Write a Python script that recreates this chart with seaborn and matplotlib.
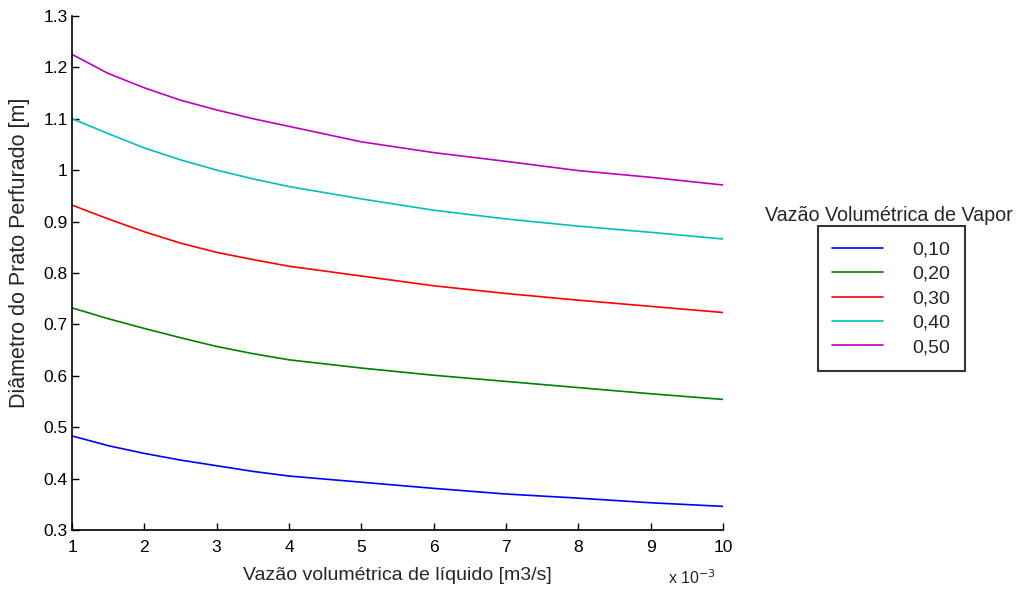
import matplotlib
matplotlib.use("Agg")
import matplotlib.pyplot as plt
import matplotlib.ticker as mticker
import seaborn as sns
import pandas as pd

# liquid flow rate (x 10^-3 m3/s)
vazao_liquido = [1, 1.5, 2, 2.5, 3, 3.5, 4, 5, 6, 7, 8, 9, 10]

# plate diameter [m] for each vapour flow rate
d_010 = [0.483, 0.464, 0.449, 0.436, 0.425, 0.414, 0.405, 0.393, 0.381, 0.370, 0.362, 0.353, 0.346]
d_020 = [0.732, 0.711, 0.692, 0.674, 0.657, 0.643, 0.631, 0.615, 0.601, 0.589, 0.577, 0.565, 0.554]
d_030 = [0.932, 0.905, 0.880, 0.858, 0.840, 0.826, 0.813, 0.794, 0.775, 0.760, 0.747, 0.735, 0.723]
d_040 = [1.100, 1.071, 1.043, 1.020, 1.000, 0.983, 0.968, 0.944, 0.922, 0.905, 0.891, 0.879, 0.866]
d_050 = [1.225, 1.188, 1.160, 1.136, 1.117, 1.100, 1.085, 1.055, 1.034, 1.017, 0.999, 0.986, 0.971]

labels = ["0,10", "0,20", "0,30", "0,40", "0,50"]
series = [d_010, d_020, d_030, d_040, d_050]
cores = [(0, 0, 1), (0, 0.5, 0), (1, 0, 0), (0, 0.75, 0.75), (0.75, 0, 0.75)]

rows = []
for lab, vals in zip(labels, series):
    for x, y in zip(vazao_liquido, vals):
        rows.append({"x": x, "d": y, "vapor": lab})
df = pd.DataFrame(rows)

sns.set_style("white")
plt.rcParams["font.family"] = ["Liberation Sans", "DejaVu Sans"]

fig = plt.figure(figsize=(10.17, 5.91), dpi=100)
ax = fig.add_axes([0.0708, 0.1032, 0.640, 0.870])

sns.lineplot(data=df, x="x", y="d", hue="vapor", palette=dict(zip(labels, cores)),
             linewidth=1.2, ax=ax, legend=False)

ax.set_xlim(1, 10)
ax.set_ylim(0.3, 1.3)
ax.set_xticks(range(1, 11))
ax.set_yticks([0.3, 0.4, 0.5, 0.6, 0.7, 0.8, 0.9, 1.0, 1.1, 1.2, 1.3])
ax.yaxis.set_major_formatter(mticker.FormatStrFormatter("%g"))
ax.tick_params(direction="in", length=5, width=1, labelsize=12.5, colors="black",
               left=True, bottom=True)
ax.tick_params(axis="x", pad=7)
ax.tick_params(axis="y", pad=3)
for s in ["top", "right"]:
    ax.spines[s].set_visible(False)
for s in ["left", "bottom"]:
    ax.spines[s].set_color("black")
    ax.spines[s].set_linewidth(1.2)

ax.set_xlabel("Vazão volumétrica de líquido [m3/s]", fontsize=14, labelpad=9)
ax.set_ylabel("Diâmetro do Prato Perfurado [m]", fontsize=15.5)
ax.yaxis.set_label_coords(-0.065, 0.54)
fig.text(0.657, 0.012, r"x 10$^{-3}$", fontsize=11.5)

# legend
handles = [plt.Line2D([], [], color=c, linewidth=1.2) for c in cores]
leg = fig.legend(handles, labels, loc="upper left", bbox_to_anchor=(0.804, 0.617),
                 fontsize=14, frameon=True, fancybox=False, handlelength=2.6,
                 handletextpad=1.5, labelspacing=0.35, borderpad=0.75, borderaxespad=0)
leg.get_frame().set_edgecolor("black")
leg.get_frame().set_linewidth(1.5)
fig.text(0.8745, 0.636, "Vazão Volumétrica de Vapor", fontsize=14.2, ha="center", va="center")

fig.savefig("out.png", dpi=100)
